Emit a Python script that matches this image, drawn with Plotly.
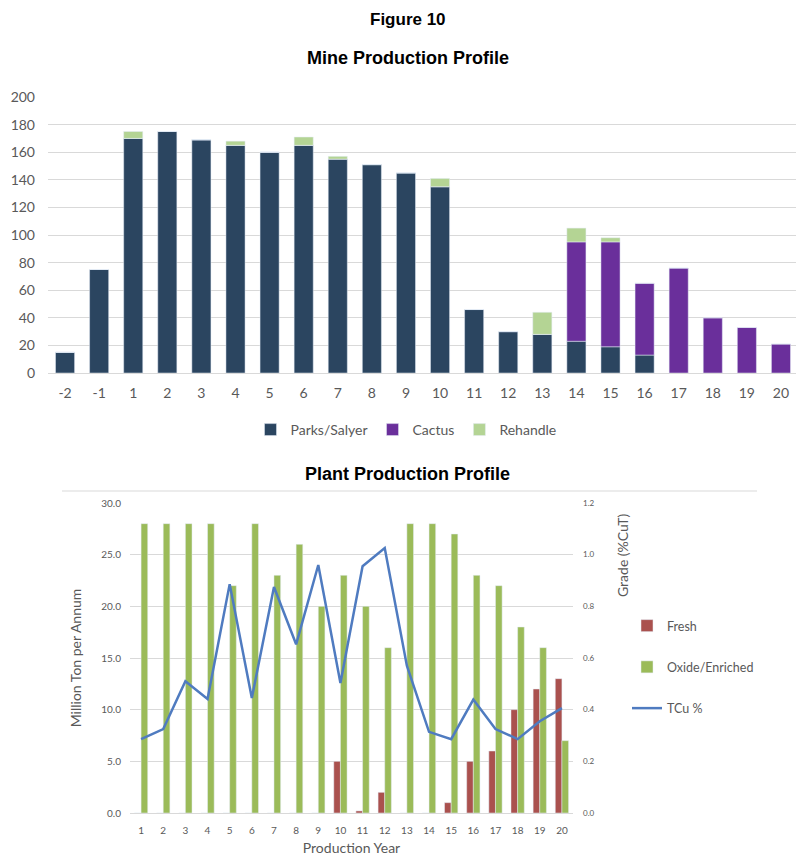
import plotly.graph_objects as go

# Mine production (top chart)
mine_years = ["-2", "-1"] + [str(i) for i in range(1, 21)]
parks = [15, 75, 170, 175, 169, 165, 160, 165, 155, 151, 145, 135, 46, 30, 28, 23, 19, 13, 0, 0, 0, 0]
cactus = [0] * 15 + [72, 76, 52, 76, 40, 33, 21]
rehandle = [0, 0, 5, 0, 0, 3, 0, 6, 2, 0, 0, 6, 0, 0, 16, 10, 3, 0, 0, 0, 0, 0]

# Plant production (bottom chart)
plant_years = [str(i) for i in range(1, 21)]
fresh = [0, 0, 0, 0, 0, 0, 0, 0, 0, 5, 0.2, 2, 0, 0, 1, 5, 6, 10, 12, 13]
oxide = [28, 28, 28, 28, 22, 28, 23, 26, 20, 23, 20, 16, 28, 28, 27, 23, 22, 18, 16, 7]
tcu = [0.286, 0.325, 0.51, 0.441, 0.886, 0.445, 0.875, 0.653, 0.96, 0.503,
       0.955, 1.026, 0.57, 0.314, 0.286, 0.439, 0.325, 0.286, 0.355, 0.406]

# the page body adds an 8px margin, so the figure is a bit smaller than the window
OFF = 8
W, H = 804 - OFF, 866 - OFF
GREY = "#595959"
GRID = "#D9D9D9"
BODY = "Lato, 'Open Sans', sans-serif"
HEAD = "'Liberation Sans', Arial, sans-serif"


def px_x(p):
    return (p - OFF) / W


def px_y(p):
    return 1 - (p - OFF) / H


# stacked bases for the mine chart
base_cactus = parks
base_rehandle = [p + c for p, c in zip(parks, cactus)]

fig = go.Figure()

fig.add_trace(go.Bar(x=mine_years, y=parks, name="Parks/Salyer", marker_color="#2B4560",
                     width=0.56, xaxis="x", yaxis="y", legend="legend"))
fig.add_trace(go.Bar(x=mine_years, y=cactus, base=base_cactus, name="Cactus", marker_color="#6A2F9B",
                     width=0.56, xaxis="x", yaxis="y", legend="legend"))
fig.add_trace(go.Bar(x=mine_years, y=rehandle, base=base_rehandle, name="Rehandle", marker_color="#B4D494",
                     width=0.56, xaxis="x", yaxis="y", legend="legend"))

fig.add_trace(go.Bar(x=plant_years, y=fresh, name="Fresh", marker_color="#AA514E",
                     width=0.3, offset=-0.3, xaxis="x2", yaxis="y2",
                     legend="legend2", legendgroup="a"))
fig.add_trace(go.Bar(x=plant_years, y=oxide, name="Oxide/Enriched", marker_color="#9BBB59",
                     width=0.3, offset=0, xaxis="x2", yaxis="y2",
                     legend="legend2", legendgroup="b"))
fig.add_trace(go.Scatter(x=plant_years, y=tcu, name="TCu %", mode="lines",
                         line=dict(color="#4F7BC0", width=2.5), xaxis="x2", yaxis="y3",
                         legend="legend2", legendgroup="c"))

fig.update_layout(
    width=W, height=H,
    margin=dict(l=0, r=0, t=0, b=0, autoexpand=False),
    paper_bgcolor="white", plot_bgcolor="white",
    barmode="overlay",
    font=dict(family=BODY, color=GREY),
    xaxis=dict(domain=[px_x(48), px_x(798)], anchor="y", type="category",
               tickfont=dict(size=14, color=GREY), showline=True, linecolor=GRID,
               ticks="", showgrid=False, ticklabelstandoff=7),
    yaxis=dict(domain=[px_y(373), px_y(97)], anchor="x", range=[0, 200], dtick=20,
               tickfont=dict(size=14, color=GREY), gridcolor=GRID, zeroline=False,
               showline=False, ticks="", ticklabelstandoff=12),
    xaxis2=dict(domain=[px_x(130), px_x(573)], anchor="y2", type="category",
                tickfont=dict(size=10, color=GREY), showline=True, linecolor=GRID,
                ticks="", showgrid=False, ticklabelstandoff=8,
                title=dict(text="Production Year", font=dict(size=14, color=GREY), standoff=8)),
    yaxis2=dict(domain=[px_y(813), px_y(503)], anchor="x2", range=[0, 30], dtick=5,
                tickformat=".1f", tickfont=dict(size=10, color=GREY), gridcolor=GRID,
                zeroline=False, ticks="", ticklabelstandoff=8,
                title=dict(text="Million Ton per Annum", font=dict(size=14, color=GREY), standoff=16)),
    yaxis3=dict(overlaying="y2", side="right", anchor="x2", range=[0, 1.2], dtick=0.2,
                tickformat=".1f", tickfont=dict(size=8, color=GREY), showgrid=False,
                zeroline=False, ticks="", ticklabelstandoff=9),
    legend=dict(orientation="h", x=px_x(406), xanchor="center", y=px_y(430), yanchor="middle",
                font=dict(size=14, color=GREY), traceorder="normal"),
    legend2=dict(x=px_x(627), xanchor="left", y=px_y(611), yanchor="top",
                 font=dict(size=12.5, color=GREY), tracegroupgap=22, traceorder="grouped"),
)

# titles
fig.add_annotation(text="<b>Figure 10</b>", x=px_x(408), y=px_y(20), xref="paper", yref="paper",
                   xanchor="center", yanchor="middle", showarrow=False,
                   font=dict(family=HEAD, size=17, color="black"))
fig.add_annotation(text="<b>Mine Production Profile</b>", x=px_x(408), y=px_y(58), xref="paper",
                   yref="paper", xanchor="center", yanchor="middle", showarrow=False,
                   font=dict(family=HEAD, size=18, color="black"))
fig.add_annotation(text="<b>Plant Production Profile</b>", x=px_x(408), y=px_y(474), xref="paper",
                   yref="paper", xanchor="center", yanchor="middle", showarrow=False,
                   font=dict(family=HEAD, size=18, color="black"))
fig.add_annotation(text="Grade (%CuT)", x=px_x(622), y=px_y(555), xref="paper", yref="paper",
                   xanchor="center", yanchor="middle", showarrow=False, textangle=-90,
                   font=dict(size=14, color=GREY))

# thin border line above the plant chart
fig.add_shape(type="line", xref="paper", yref="paper", x0=px_x(62), x1=px_x(757),
              y0=px_y(491), y1=px_y(491), line=dict(color=GRID, width=1))

fig.write_html("out.html")
